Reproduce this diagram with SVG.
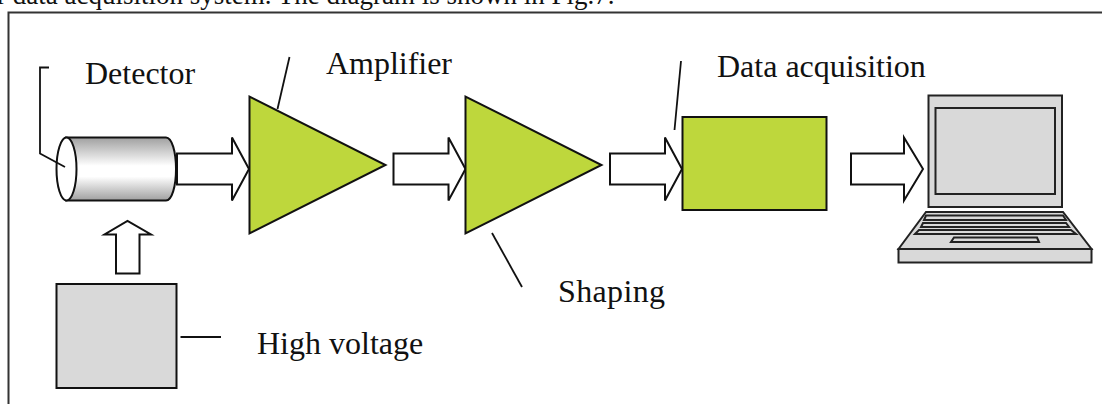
<svg xmlns="http://www.w3.org/2000/svg" width="1102" height="404" viewBox="0 0 1102 404">
<style>
text{font-family:"Liberation Serif","Times New Roman",serif;fill:#111}
.lbl{font-size:32px}
.ln{fill:none;stroke:#111;stroke-width:1.800}
.sh{stroke:#111;stroke-width:2;stroke-linejoin:miter}
.ar{fill:#fff;stroke:#111;stroke-width:2}
.g{fill:#bed73c}
.k{fill:#d9d9d9}
.lp{stroke:#222;stroke-width:2;fill:#d9d9d9}
</style>
<defs>
<linearGradient id="cyl" x1="0" y1="0" x2="0" y2="1">
<stop offset="0" stop-color="#a0a0a0"/><stop offset=".45" stop-color="#fff"/><stop offset=".62" stop-color="#fff"/><stop offset="1" stop-color="#a0a0a0"/>
</linearGradient>
<path id="arrow" d="M0 0H55V-16L72 15.500L55 47V31H0Z"/>
</defs>
<rect width="1102" height="404" fill="#fff"/>
<text x="-3" y="4" font-size="27">r data acquisition system. The diagram is shown in Fig.7.</text>
<rect id="frame" x="8.500" y="12.500" width="1120" height="420" fill="none" stroke="#333" stroke-width="2"/>
<g id="connectors">
<use href="#arrow" class="ar" x="177" y="153.500"/>
<use href="#arrow" class="ar" x="393.500" y="153.500"/>
<use href="#arrow" class="ar" x="610" y="153.500"/>
<path class="ar" d="M851 153.500H904V137.500L923 169L904 200.500V184.500H851Z"/>
<path class="ar" d="M116 273.500V234.500H104.500L127.500 221L151 234.500H139.500V273.500Z"/>
<path class="ln" d="M289.500 57L277.500 109"/>
<path class="ln" d="M681 61L674.500 130"/>
<path class="ln" d="M492 233L522 287"/>
<path class="ln" d="M180.500 337H221"/>
</g>
<g id="detector">
<path class="sh" fill="url(#cyl)" d="M66 137.500H166C172 137.500 176 152 176 169S172 200.500 166 200.500H66Z"/>
<ellipse class="sh" cx="66.500" cy="169" rx="10" ry="31.500" fill="#fff"/>
</g>
<path class="ln" d="M49 67.500H40V153.500L65 167"/>
<text class="lbl" x="85" y="84">Detector</text>
<g id="amplifier"><path class="sh g" d="M249.500 96.500V233.500L385.500 165Z"/></g>
<text class="lbl" x="326" y="74" textLength="126">Amplifier</text>
<g id="shaping"><path class="sh g" d="M465.500 96.500V233.500L601.500 165Z"/></g>
<text class="lbl" x="558" y="302" textLength="107">Shaping</text>
<g id="daq"><rect class="sh g" x="682.500" y="117" width="144" height="93"/></g>
<text class="lbl" x="717" y="77">Data acquisition</text>
<g id="hv"><rect class="sh k" x="56.500" y="284" width="120" height="104"/></g>
<text class="lbl" x="257" y="354">High voltage</text>
<g id="laptop">
<rect class="lp" x="928.500" y="95.500" width="133.500" height="111.500"/>
<rect class="lp" x="935.500" y="108" width="119.500" height="86"/>
<path class="lp" d="M898.500 249L926 212H1063L1091.500 249Z"/>
<rect class="lp" x="898.500" y="249" width="193" height="13.500"/>
<path class="lp" d="M926 215.500H1063L1066 220H924Z"/>
<path class="lp" d="M923 223H1066L1069 227H921Z"/>
<path class="lp" d="M919 230H1071L1076 234H915Z"/>
<path class="lp" d="M954 237.500H1037L1039 242H951Z"/>
</g>
</svg>
